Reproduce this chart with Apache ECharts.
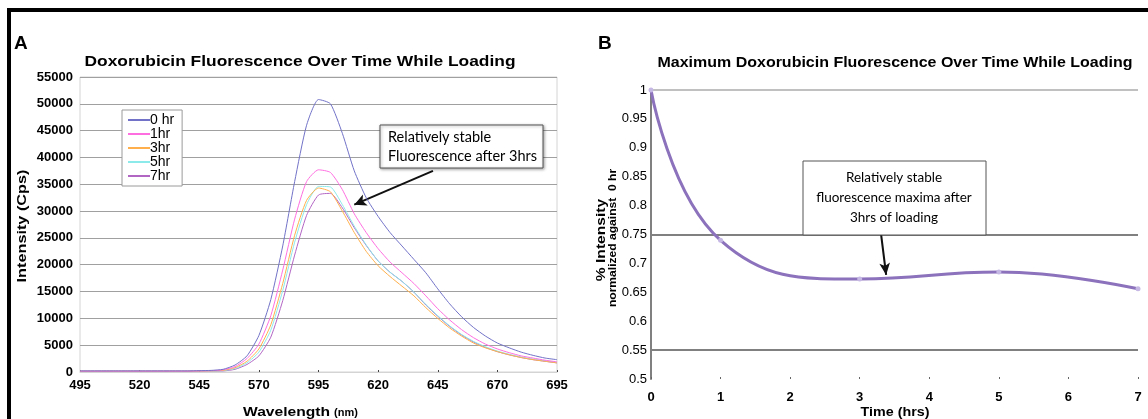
<!DOCTYPE html>
<html><head><meta charset="utf-8">
<script src="https://cdn.jsdelivr.net/npm/echarts/dist/echarts.min.js"></script>
<style>html,body{margin:0;padding:0;background:#fff}#c{width:1148px;height:419px}</style>
</head><body><div id="c"></div>
<script>
// ---------- DATA ----------
const wavelengths = [495,500,505,510,515,520,525,530,535,540,545,550,555,560,565,570,575,580,585,590,595,600,605,610,615,620,625,630,635,640,645,650,655,660,665,670,675,680,685,690,695];
const seriesNames = ['0 hr','1hr','3hr','5hr','7hr'];
const hr0 = [200,200,200,200,200,200,200,200,200,200,250,300,500,1300,3000,6800,13500,23500,35500,46000,50800,50000,44500,37500,32500,29000,26000,23500,21000,18500,15500,12700,10300,8300,6700,5400,4500,3700,3100,2600,2300];
const hr1 = [150,150,150,150,150,150,150,150,150,150,200,250,400,1000,2500,5200,10500,19000,28500,35500,37700,37200,34000,29500,26000,23000,20500,18500,16500,14200,11800,9700,7900,6400,5200,4300,3600,3000,2600,2200,1900];
const hr3 = [150,150,150,150,150,150,150,150,150,150,180,220,300,800,2000,4300,8800,16500,25500,32000,34300,33600,30000,26000,22500,19800,17800,16000,14200,12000,10000,8200,6700,5400,4500,3800,3200,2700,2300,2000,1700];
const hr5 = [150,150,150,150,150,150,150,150,150,150,170,200,250,650,1700,3700,7800,15200,24200,31200,34600,34500,31200,27200,23700,20700,18600,16900,14900,12600,10500,8600,7000,5700,4700,3900,3300,2800,2400,2100,1800];
const hr7 = [150,150,150,150,150,150,150,150,150,150,160,180,200,500,1400,3000,6500,13300,21800,29200,33000,33300,30600,26900,23600,20700,18600,16900,14900,12500,10400,8500,6900,5600,4600,3800,3200,2700,2300,2000,1700];
const bTimes = [0,1,3,5,7];
const bValues = [1,0.74,0.673,0.685,0.656];
const bGridValues = [0.55,0.75];
// annotation arrow in panel A (data coordinates: [wavelength, intensity])
const arrowA = [[643,37500],[610,31200]];
// annotation arrow in panel B (data coordinates: [time, fraction])
const arrowB = [[3.3,0.757],[3.38,0.68]];

// ---------- CHART ----------
const colors = ['#7272c8','#ff6ee0','#ffb04c','#8ceaea','#b266c4'];
const specs = [hr0,hr1,hr3,hr5,hr7];
const F = 'Liberation Sans, Arial, sans-serif';
const chart = echarts.init(document.getElementById('c'), null, {renderer:'canvas'});

const mctx = document.createElement('canvas').getContext('2d');
function fitScale(text, font, target){ mctx.font = font; return target / mctx.measureText(text).width; }

const series = specs.map((arr,i)=>({
  name: seriesNames[i], type:'line', xAxisIndex:0, yAxisIndex:0,
  data: wavelengths.map((w,j)=>[w,arr[j]]), showSymbol:false, smooth:0.2,
  lineStyle:{width:1,color:colors[i]}, itemStyle:{color:colors[i]}, z: 5-i,
  silent:true
}));
series[0].markLine = {
  silent:true, symbol:['none','arrow'], symbolSize:[9,12],
  lineStyle:{color:'#111',width:2,type:'solid'}, label:{show:false},
  data:[[{coord:arrowA[0]},{coord:arrowA[1]}]]
};
series.push({
  name:'max', type:'line', xAxisIndex:1, yAxisIndex:1,
  data: bTimes.map((t,i)=>[t,bValues[i]]), smooth:0.45,
  symbol:'circle', symbolSize:5, showSymbol:true,
  lineStyle:{width:3,color:'#8c72bc'}, itemStyle:{color:'#c6b8e4',borderWidth:0},
  markLine:{
    silent:true, symbol:['none','none'], label:{show:false},
    lineStyle:{color:'#808080',width:2,type:'solid'},
    data: bGridValues.map(v=>({yAxis:v}))
  },
  z:5, silent:true
});
series.push({
  name:'arrowB', type:'line', xAxisIndex:1, yAxisIndex:1, data:[], silent:true,
  markLine:{silent:true, symbol:['none','arrow'], symbolSize:[8,12], label:{show:false},
    lineStyle:{color:'#111',width:2,type:'solid'},
    data:[[{coord:arrowB[0]},{coord:arrowB[1]}]]}
});

const boldLbl = {color:'#000',fontFamily:F,fontWeight:'bold',fontSize:13};
const tA = 'Doxorubicin Fluorescence Over Time While Loading';
const tB = 'Maximum Doxorubicin Fluorescence Over Time While Loading';
const fA = 'bold 15px '+F, fB = 'bold 14px '+F;

chart.setOption({
  animation:false,
  backgroundColor:'#fff',
  legend:{
    data:seriesNames, orient:'vertical', left:122, top:110,
    backgroundColor:'#fff', borderColor:'#9a9a9a', borderWidth:1,
    padding:[3,8,3,6], itemGap:0, itemWidth:22, itemHeight:2, icon:'rect',
    textStyle:{fontFamily:F,fontSize:14,color:'#000',lineHeight:12.5,padding:[0,0,0,-5]},
    z:10
  },
  grid:[
    {left:80,top:77,width:477,height:295,show:true,borderColor:'#d4d4d4',borderWidth:1,backgroundColor:'transparent'},
    {left:651,top:90,width:487,height:289,show:false}
  ],
  xAxis:[
    {gridIndex:0,type:'value',min:495,max:695,interval:25,
     axisLine:{show:true,lineStyle:{color:'#d4d4d4'}},
     axisTick:{show:true,length:2,inside:true,lineStyle:{color:'#444'}},
     axisLabel:Object.assign({margin:7},boldLbl), splitLine:{show:false}},
    {gridIndex:1,type:'value',min:0,max:7,interval:1,
     axisLine:{show:false},
     axisTick:{show:true,length:2,inside:true,lineStyle:{color:'#666'}},
     axisLabel:Object.assign({margin:12},boldLbl), splitLine:{show:false}}
  ],
  yAxis:[
    {gridIndex:0,type:'value',min:0,max:55000,interval:5000,
     axisLine:{show:false}, axisTick:{show:false},
     axisLabel:Object.assign({margin:7,formatter:v=>String(v)},boldLbl),
     splitLine:{show:true,lineStyle:{color:'#a0a0a0',width:1}}},
    {gridIndex:1,type:'value',min:0.5,max:1,interval:0.05,
     axisLine:{show:true,lineStyle:{color:'#808080',width:2}}, axisTick:{show:false},
     axisLabel:{color:'#000',fontFamily:F,fontSize:13,margin:4},
     splitLine:{show:true,lineStyle:{color:['transparent','transparent','transparent','transparent','transparent','transparent','transparent','transparent','transparent','transparent','#c0c0c0'],width:2}}}
  ],
  series: series,
  graphic:[
    {type:'rect',shape:{x:7,y:8,width:1141,height:4},style:{fill:'#000'},z:100},
    {type:'rect',shape:{x:7,y:8,width:4,height:411},style:{fill:'#000'},z:100},
    {type:'text',left:14,top:34,style:{text:'A',font:'bold 19px '+F,fill:'#000'}},
    {type:'text',left:598,top:34,style:{text:'B',font:'bold 19px '+F,fill:'#000'}},
    {type:'text',x:300,y:62,scaleX:fitScale(tA,fA,431),style:{text:tA,font:fA,fill:'#000',align:'center',verticalAlign:'middle'}},
    {type:'text',x:895,y:63,scaleX:fitScale(tB,fB,475),style:{text:tB,font:fB,fill:'#000',align:'center',verticalAlign:'middle'}},
    {type:'text',x:330,y:412,scaleX:1.2,style:{text:'Wavelength',font:'bold 13px '+F,fill:'#000',align:'right',verticalAlign:'middle'}},
    {type:'text',x:334,y:413,scaleX:1.1,style:{text:'(nm)',font:'bold 10px '+F,fill:'#000',align:'left',verticalAlign:'middle'}},
    {type:'text',x:22,y:226,rotation:Math.PI/2,scaleX:1.25,style:{text:'Intensity (Cps)',font:'bold 13px '+F,fill:'#000',align:'center',verticalAlign:'middle'}},
    {type:'text',x:895,y:412,scaleX:1.1,style:{text:'Time (hrs)',font:'bold 13px '+F,fill:'#000',align:'center',verticalAlign:'middle'}},
    {type:'text',x:601,y:240,rotation:Math.PI/2,scaleX:1.2,style:{text:'% Intensity',font:'bold 13px '+F,fill:'#000',align:'center',verticalAlign:'middle'}},
    {type:'text',x:613,y:238,rotation:Math.PI/2,scaleX:1.15,style:{text:'normalized against  0 hr',font:'bold 10.5px '+F,fill:'#000',align:'center',verticalAlign:'middle'}},
    {type:'rect',shape:{x:380,y:125,width:163,height:43},style:{fill:'#fff',stroke:'#555',lineWidth:1,shadowBlur:3,shadowColor:'rgba(0,0,0,0.35)',shadowOffsetX:1,shadowOffsetY:1},z:20},
    {type:'text',x:388,y:137,z:21,style:{text:'Relatively stable',font:'14.5px Lato, sans-serif',fill:'#000',verticalAlign:'middle'}},
    {type:'text',x:388,y:156,z:21,style:{text:'Fluorescence after 3hrs',font:'14.5px Lato, sans-serif',fill:'#000',verticalAlign:'middle'}},
    {type:'rect',shape:{x:803,y:161,width:183,height:74},style:{fill:'#fff',stroke:'#555',lineWidth:1},z:20},
    {type:'text',x:894,y:178,z:21,style:{text:'Relatively stable',font:'13.5px Lato, sans-serif',fill:'#000',align:'center',verticalAlign:'middle'}},
    {type:'text',x:894,y:198,z:21,style:{text:'fluorescence maxima after',font:'13.5px Lato, sans-serif',fill:'#000',align:'center',verticalAlign:'middle'}},
    {type:'text',x:894,y:218,z:21,style:{text:'3hrs of loading',font:'13.5px Lato, sans-serif',fill:'#000',align:'center',verticalAlign:'middle'}}
  ]
});
</script></body></html>
